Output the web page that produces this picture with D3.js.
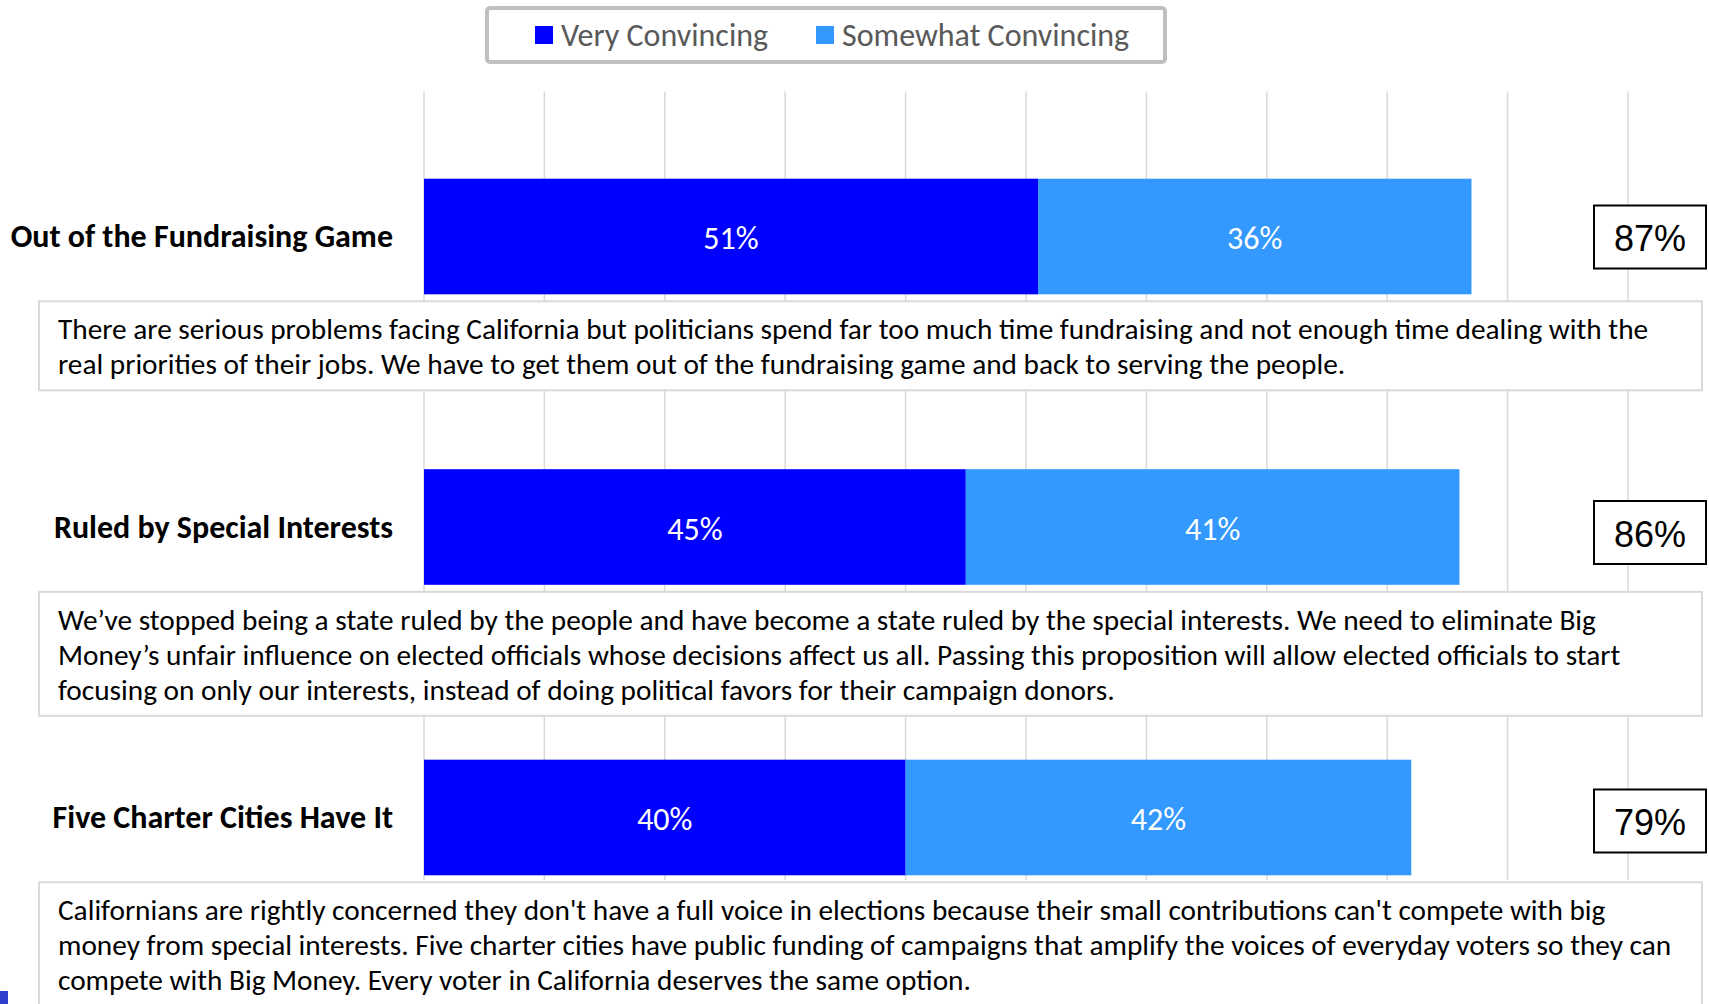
<!DOCTYPE html>
<html>
<head>
<meta charset="utf-8">
<script src="https://cdn.jsdelivr.net/npm/d3@7"></script>
<style>
  body { margin: 0; background: #fff; }
  svg { display: block; }
</style>
</head>
<body>
<svg id="chart"></svg>
<script>
var categories = ["Out of the Fundraising Game", "Ruled by Special Interests", "Five Charter Cities Have It"];
var veryConvincing = [51, 45, 40];
var somewhatConvincing = [36, 41, 42];
var totalLabels = ["87%", "86%", "79%"];
var seriesNames = ["Very Convincing", "Somewhat Convincing"];
var gridTicks = [0, 10, 20, 30, 40, 50, 60, 70, 80, 90, 100];
var descriptions = [
    ["There are serious problems facing California but politicians spend far too much time fundraising and not enough time dealing with the",
     "real priorities of their jobs. We have to get them out of the fundraising game and back to serving the people."],
    ["We\u2019ve stopped being a state ruled by the people and have become a state ruled by the special interests. We need to eliminate Big",
     "Money\u2019s unfair influence on elected officials whose decisions affect us all. Passing this proposition will allow elected officials to start",
     "focusing on only our interests, instead of doing political favors for their campaign donors."],
    ["Californians are rightly concerned they don't have a full voice in elections because their small contributions can't compete with big",
     "money from special interests. Five charter cities have public funding of campaigns that amplify the voices of everyday voters so they can",
     "compete with Big Money. Every voter in California deserves the same option."]
];

var colors = ["#0000ff", "#3399ff"];
var font = "Carlito, Calibri, Lato, sans-serif";

var width = 1709, height = 1004;

var svg = d3.select("#chart")
    .attr("width", width)
    .attr("height", height);

var data = categories.map(function(c, i) {
    return {cat: c, very: veryConvincing[i], some: somewhatConvincing[i], total: totalLabels[i], lines: descriptions[i]};
});

var x = d3.scaleLinear()
    .domain([0, 100])
    .range([424, 1628]);

var y = d3.scaleBand()
    .domain(categories)
    .range([178.7, 875.3])
    .paddingInner(0.602)
    .paddingOuter(0);

// the total boxes sit a little lower on the 2nd and 3rd rows
var boxShift = [0, 5, 3];

// vertical gridlines
svg.append("g")
    .selectAll("line")
    .data(gridTicks)
    .enter().append("line")
    .attr("x1", function(d) { return x(d); })
    .attr("x2", function(d) { return x(d); })
    .attr("y1", 91.5)
    .attr("y2", 880)
    .attr("stroke", "#d9d9d9")
    .attr("stroke-width", 1.5);

var rows = svg.append("g")
    .selectAll("g")
    .data(data)
    .enter().append("g");

// stacked bars
rows.append("rect")
    .attr("x", x(0))
    .attr("y", function(d) { return y(d.cat); })
    .attr("width", function(d) { return x(d.very) - x(0); })
    .attr("height", y.bandwidth())
    .attr("fill", colors[0]);

rows.append("rect")
    .attr("x", function(d) { return x(d.very); })
    .attr("y", function(d) { return y(d.cat); })
    .attr("width", function(d) { return x(d.very + d.some) - x(d.very); })
    .attr("height", y.bandwidth())
    .attr("fill", colors[1]);

// segment labels
rows.append("text")
    .attr("x", function(d) { return (x(0) + x(d.very)) / 2; })
    .attr("y", function(d) { return y(d.cat) + y.bandwidth() / 2 + 2; })
    .attr("text-anchor", "middle")
    .attr("dominant-baseline", "central")
    .attr("fill", "#fff")
    .attr("font-family", font)
    .attr("font-size", "32px")
    .text(function(d) { return d.very + "%"; });

rows.append("text")
    .attr("x", function(d) { return (x(d.very) + x(d.very + d.some)) / 2; })
    .attr("y", function(d) { return y(d.cat) + y.bandwidth() / 2 + 2; })
    .attr("text-anchor", "middle")
    .attr("dominant-baseline", "central")
    .attr("fill", "#fff")
    .attr("font-family", font)
    .attr("font-size", "32px")
    .text(function(d) { return d.some + "%"; });

// category labels
rows.append("text")
    .attr("x", 393)
    .attr("y", function(d) { return y(d.cat) + y.bandwidth() / 2; })
    .attr("text-anchor", "end")
    .attr("dominant-baseline", "central")
    .attr("fill", "#000")
    .attr("font-family", font)
    .attr("font-weight", "bold")
    .attr("font-size", "32px")
    .text(function(d) { return d.cat; });

// total boxes on the right
rows.append("rect")
    .attr("x", 1594)
    .attr("y", function(d, i) { return y(d.cat) + y.bandwidth() / 2 - 31 + boxShift[i]; })
    .attr("width", 112)
    .attr("height", 63)
    .attr("fill", "#fff")
    .attr("stroke", "#000")
    .attr("stroke-width", 2);

rows.append("text")
    .attr("x", 1650)
    .attr("y", function(d, i) { return y(d.cat) + y.bandwidth() / 2 + 2 + boxShift[i]; })
    .attr("text-anchor", "middle")
    .attr("dominant-baseline", "central")
    .attr("fill", "#000")
    .attr("font-family", "Liberation Sans, Arial, sans-serif")
    .attr("font-size", "36px")
    .text(function(d) { return d.total; });

// message boxes under each bar
var lineH = 35;
rows.append("rect")
    .attr("x", 39)
    .attr("y", function(d) { return y(d.cat) + y.bandwidth() + 7; })
    .attr("width", 1663)
    .attr("height", function(d) { return d.lines.length * lineH + 19; })
    .attr("fill", "#fff")
    .attr("stroke", "#d9d9d9")
    .attr("stroke-width", 2);

rows.each(function(d) {
    var top = y(d.cat) + y.bandwidth() + 7;
    d3.select(this).selectAll("text.msg")
        .data(d.lines)
        .enter().append("text")
        .attr("class", "msg")
        .attr("x", 58)
        .attr("y", function(l, i) { return top + 28 + i * lineH; })
        .attr("dominant-baseline", "central")
        .attr("fill", "#000")
        .attr("font-family", font)
        .attr("font-size", "29.3px")
        .text(function(l) { return l; });
});

// legend
var legend = svg.append("g");
legend.append("rect")
    .attr("x", 487)
    .attr("y", 8)
    .attr("width", 678)
    .attr("height", 54)
    .attr("rx", 3)
    .attr("fill", "#fff")
    .attr("stroke", "#bfbfbf")
    .attr("stroke-width", 4);

var legendX = [535, 816];
var items = legend.selectAll("g")
    .data(seriesNames)
    .enter().append("g")
    .attr("transform", function(d, i) { return "translate(" + legendX[i] + ",26)"; });

items.append("rect")
    .attr("width", 18)
    .attr("height", 18)
    .attr("fill", function(d, i) { return colors[i]; });

items.append("text")
    .attr("x", 26)
    .attr("y", 9)
    .attr("dominant-baseline", "central")
    .attr("fill", "#595959")
    .attr("font-family", font)
    .attr("font-size", "32px")
    .text(function(d) { return d; });

// little blue corner mark left over in the slide
svg.append("rect")
    .attr("x", 0)
    .attr("y", 991)
    .attr("width", 8)
    .attr("height", 13)
    .attr("fill", "#2f3fd0");
</script>
</body>
</html>
